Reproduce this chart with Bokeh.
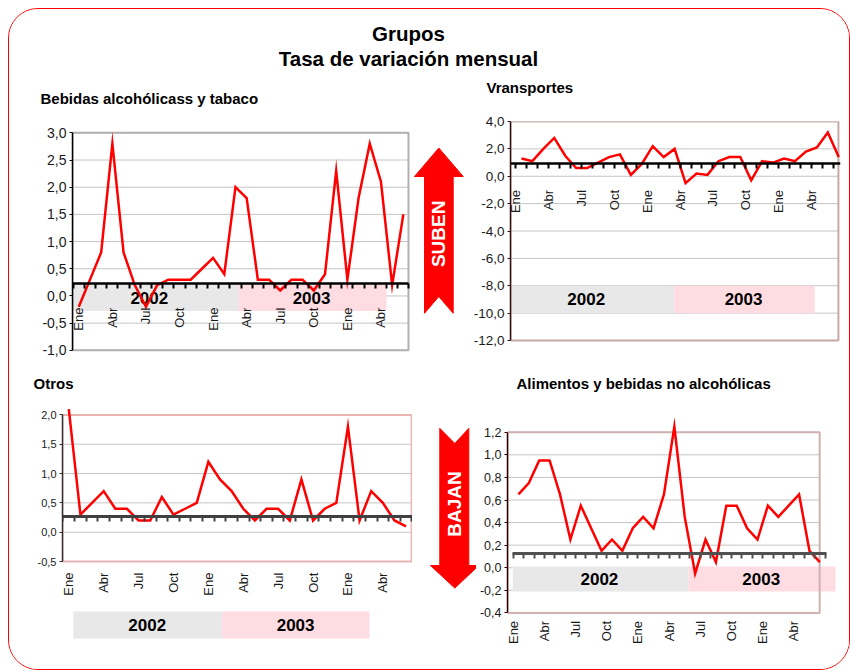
import math
from bokeh.plotting import figure
from bokeh.layouts import column, row
from bokeh.models import LinearAxis, FixedTicker, CustomJSTickFormatter, Range1d
from bokeh.core.properties import value
from bokeh.embed import file_html
from bokeh.resources import INLINE

# ---------------- data ----------------
MAIN_TITLE = ["Grupos", "Tasa de variación mensual"]
PANEL_TITLES = ["Bebidas alcohólicass y tabaco", "Vransportes", "Otros",
                "Alimentos y bebidas no alcohólicas"]
YEARS = ["2002", "2003"]
MONTH_TICK_LABELS = ["Ene", "Abr", "Jul", "Oct", "Ene", "Abr", "Jul", "Oct", "Ene", "Abr"]
ARROW_LABELS = ["SUBEN", "BAJAN"]

BEBIDAS = [-0.2, 0.3, 0.8, 2.8, 0.8, 0.2, -0.2, 0.2, 0.3, 0.3, 0.3, 0.5, 0.7, 0.4, 2.0,
           1.8, 0.3, 0.3, 0.1, 0.3, 0.3, 0.1, 0.4, 2.3, 0.3, 1.8, 2.8, 2.1, 0.2, 1.5]
TRANSPORTES = [1.3, 1.1, 2.0, 2.8, 1.5, 0.6, 0.6, 1.0, 1.4, 1.6, 0.1, 0.9, 2.2, 1.4, 2.0,
               -0.5, 0.2, 0.1, 1.1, 1.4, 1.4, -0.3, 1.1, 1.0, 1.3, 1.1, 1.8, 2.1, 3.2, 1.4]
OTROS = [2.1, 0.3, 0.5, 0.7, 0.4, 0.4, 0.2, 0.2, 0.6, 0.3, 0.4, 0.5, 1.2, 0.9, 0.7,
         0.4, 0.2, 0.4, 0.4, 0.2, 0.9, 0.2, 0.4, 0.5, 1.8, 0.2, 0.7, 0.5, 0.2, 0.1]
ALIMENTOS = [0.65, 0.75, 0.95, 0.95, 0.65, 0.25, 0.55, 0.35, 0.15, 0.25, 0.15, 0.35, 0.45,
             0.35, 0.65, 1.25, 0.45, -0.05, 0.25, 0.05, 0.55, 0.55, 0.35, 0.25, 0.55, 0.45,
             0.55, 0.65, 0.15, 0.05]

BEBIDAS_YTICKS = [-1.0, -0.5, 0.0, 0.5, 1.0, 1.5, 2.0, 2.5, 3.0]
TRANSPORTES_YTICKS = [-12.0, -10.0, -8.0, -6.0, -4.0, -2.0, 0.0, 2.0, 4.0]
OTROS_YTICKS = [-0.5, 0.0, 0.5, 1.0, 1.5, 2.0]
ALIMENTOS_YTICKS = [-0.4, -0.2, 0.0, 0.2, 0.4, 0.6, 0.8, 1.0, 1.2]

# ---------------- style ----------------
FONT = "Liberation Sans"
RED = "#ff0000"
GRID = "#c4c4c4"
BAND_COLORS = ["#e8e8e8", "#ffdce1"]
LABEL_COLOR = "#1a1a1a"


def pixel_fig(x0, x1, y0, y1):
    p = figure(width=x1 - x0, height=y1 - y0, x_range=Range1d(x0, x1), y_range=Range1d(y1, y0),
               x_axis_location=None, y_axis_location=None, toolbar_location=None,
               output_backend="svg", min_border=0)
    p.grid.visible = False
    p.outline_line_color = None
    return p


def chart(width, height, borders, x_range, y_range, yticks, ylab_size, yaxis_color, box, box_color):
    """box = (x_left, x_right) of the visible plot box; its y extent is the tick span."""
    p = figure(width=width, height=height, x_range=Range1d(*x_range), y_range=Range1d(*y_range),
               x_axis_location=None, y_axis_location="left", toolbar_location=None,
               output_backend="svg",
               min_border_left=borders[0], min_border_right=borders[1],
               min_border_top=borders[2], min_border_bottom=borders[3])
    p.outline_line_color = None
    p.grid.visible = False
    yt = FixedTicker(ticks=yticks)
    p.yaxis.ticker = yt
    p.yaxis.bounds = (min(yticks), max(yticks))
    p.yaxis.formatter = CustomJSTickFormatter(code="return tick.toFixed(1).replace('.', ',');")
    p.yaxis.axis_line_color = yaxis_color
    p.yaxis.axis_line_width = 1.5
    p.yaxis.major_tick_line_color = yaxis_color
    p.yaxis.major_tick_in = 0
    p.yaxis.major_tick_out = 3
    p.yaxis.minor_tick_line_color = None
    p.yaxis.major_label_standoff = 3
    p.yaxis.major_label_text_font = FONT
    p.yaxis.major_label_text_font_size = ylab_size
    p.yaxis.major_label_text_color = LABEL_COLOR
    # horizontal grid lines limited to the visible box
    p.segment(x0=box[0], x1=box[1], y0=yticks, y1=yticks, line_color=GRID, line_width=1)
    p._box = (box, (min(yticks), max(yticks)), box_color)
    return p


def draw_box(p):
    (xl, xr), (yb, yt), color = p._box
    p.quad(left=xl, right=xr, bottom=yb, top=yt, fill_color=None, line_color=color, line_width=2)


def cross_axis(p, loc, n, color, width, bounds=None):
    ax = LinearAxis(fixed_location=loc, ticker=FixedTicker(ticks=[i - 0.5 for i in range(n + 1)]),
                    formatter=CustomJSTickFormatter(code="return '';"),
                    axis_line_color=color, axis_line_width=width,
                    major_tick_line_color=color, major_tick_line_width=2,
                    major_tick_in=0, major_tick_out=5, minor_tick_line_color=None,
                    major_label_text_font_size="1px")
    if bounds is not None:
        ax.bounds = bounds
    p.add_layout(ax, "below")


def month_axis(p, positions, standoff, size, loc):
    ax = LinearAxis(fixed_location=loc, ticker=FixedTicker(ticks=positions),
                    formatter=CustomJSTickFormatter(
                        args=dict(labels=MONTH_TICK_LABELS, pos=positions),
                        code="for (let i = 0; i < pos.length; i++) { if (Math.abs(pos[i] - tick) < 1e-6) return labels[i]; } return '';"),
                    axis_line_color=None, major_tick_line_color=None, major_tick_in=0,
                    major_tick_out=0, minor_tick_line_color=None,
                    major_label_orientation=math.pi / 2, major_label_standoff=standoff,
                    major_label_text_font=FONT, major_label_text_font_size=size,
                    major_label_text_color=LABEL_COLOR)
    p.add_layout(ax, "below")


def year_bands(p, lefts, rights, bottom, top, tx, ty, size="17px"):
    p.quad(left=lefts, right=rights, bottom=bottom, top=top, fill_color=BAND_COLORS, line_color=None)
    p.text(x=tx, y=ty, text=YEARS, text_font=value(FONT), text_font_style="bold",
           text_font_size=size, text_align="center", text_baseline="middle", text_color="black")


def red_line(p, vals):
    p.line(x=list(range(len(vals))), y=vals, line_color=RED, line_width=2.5, line_join="miter")


n = len(BEBIDAS)
pos_on = [3 * i for i in range(len(MONTH_TICK_LABELS))]
pos_half = [3 * i - 0.5 for i in range(len(MONTH_TICK_LABELS))]

# ---------- header ----------
header = pixel_fig(9, 849, 9, 110)
header.text(x=[408, 408], y=[33, 58], text=MAIN_TITLE, text_font=value(FONT), text_font_style="bold",
            text_font_size="20.5px", text_align="center", text_baseline="middle", text_color="black")
header.text(x=[40, 486], y=[98, 87], text=PANEL_TITLES[:2], text_font=value(FONT),
            text_font_style="bold", text_font_size="15px", text_align="left",
            text_baseline="middle", text_color="black")

# Row 1: canvas y 110..365, common frame y 121..352
# ---------- panel 1 ----------
f1 = chart(403, 255, (63, 2, 11, 13), (-0.563, 29.64), (-1.04, 3.208), BEBIDAS_YTICKS, "14px",
           "#000000", box=(-0.563, 29.46), box_color="#b0b0b0")
year_bands(f1, [-1.7, 14.3], [14.3, 27.5], -0.276, 0.214, [6.3, 20.8], [-0.03, -0.03])
draw_box(f1)
red_line(f1, BEBIDAS)
cross_axis(f1, 0.227, n, "#000000", 2.5, bounds=(-0.563, 29.5))
month_axis(f1, pos_on, 24, "13px", loc=0.227)

# ---------- arrow up ----------
a1 = pixel_fig(412, 470, 110, 365)
a1.patch(x=[438.3, 462.7, 452.7, 452.7, 438.3, 424, 424, 414],
         y=[139.3, 170.7, 170.7, 321.7, 303.3, 321.7, 170.7, 170.7],
         fill_color=RED, line_color=RED, line_width=1)
a1.text(x=[438.3], y=[234], text=[ARROW_LABELS[0]], angle=math.pi / 2, text_font=value(FONT),
        text_font_style="bold", text_font_size="19px", text_align="center",
        text_baseline="middle", text_color="white")

# ---------- panel 2 ----------
f2 = chart(379, 255, (39, 9, 11, 13), (-1.0, 29.16), (-12.876, 4.0), TRANSPORTES_YTICKS, "13.5px",
           "#301010", box=(-1.0, 28.97), box_color="#c8a8a8")
year_bands(f2, [-1.98, 13.97], [13.97, 26.8], -10.0, -8.0, [5.92, 20.3], [-9.0, -9.0])
draw_box(f2)
red_line(f2, TRANSPORTES)
cross_axis(f2, 0.9, n, "#000000", 2.5, bounds=(-1.0, 29.5))
month_axis(f2, pos_half, 26, "13px", loc=0.9)

# ---------- middle titles ----------
mid = pixel_fig(9, 849, 365, 398)
mid.text(x=[33, 516], y=[383, 383], text=PANEL_TITLES[2:], text_font=value(FONT),
         text_font_style="bold", text_font_size="15px", text_align="left",
         text_baseline="middle", text_color="black")

# Row 2: canvas y 398..669, common frame y 405..650
# ---------- panel 3 ----------
f3 = chart(403, 271, (53, 0, 7, 19), (-0.542, 29.55), (-2.016, 2.16), OTROS_YTICKS, "11px",
           "#303030", box=(-0.542, 29.47), box_color="#e8b4b4")
year_bands(f3, [0.40, 13.2], [13.2, 25.85], -1.812, -1.352, [6.74, 19.5], [-1.58, -1.58])
draw_box(f3)
red_line(f3, OTROS)
cross_axis(f3, 0.27, n, "#404040", 3)
month_axis(f3, pos_on, 11, "13px", loc=-0.5)

# ---------- arrow down ----------
a2 = pixel_fig(412, 476, 398, 669)
a2.patch(x=[439.3, 454.3, 468.3, 468.3, 478.3, 454.3, 430, 439.3],
         y=[423.3, 440, 423.3, 575, 575, 600, 575, 575],
         fill_color=RED, line_color=RED, line_width=1)
a2.text(x=[454.3], y=[507], text=[ARROW_LABELS[1]], angle=math.pi / 2, text_font=value(FONT),
        text_font_style="bold", text_font_size="19px", text_align="center",
        text_baseline="middle", text_color="white")

# ---------- panel 4 ----------
f4 = chart(373, 271, (28, 13, 7, 19), (-1.05, 30.6), (-0.733, 1.437), ALIMENTOS_YTICKS, "12.5px",
           "#300000", box=(-1.05, 28.98), box_color="#d0b0b0")
year_bands(f4, [-0.54, 16.37], [16.37, 30.5], -0.21, 0.01, [7.79, 23.36], [-0.098, -0.098])
draw_box(f4)
red_line(f4, ALIMENTOS)
cross_axis(f4, 0.13, n, "#505050", 3, bounds=(-0.55, 29.65))
month_axis(f4, pos_half, 8, "13px", loc=-0.4)

layout = column(header, row(f1, a1, f2), mid, row(f3, a2, f4),
                styles={"border": "1px solid #ff0000", "border-radius": "30px", "overflow": "hidden",
                        "margin-left": "8px", "margin-top": "8px"})

open("out.html", "w").write(file_html(layout, INLINE))
